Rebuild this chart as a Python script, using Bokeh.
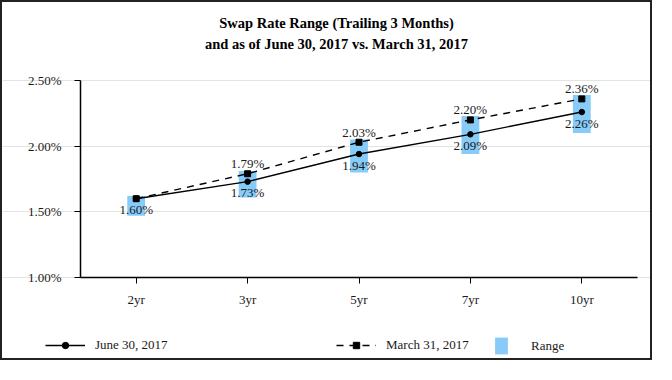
from bokeh.plotting import figure
from bokeh.models import (ColumnDataSource, LabelSet, Label, Legend, LegendItem,
                          Range1d, FixedTicker)
from bokeh.core.properties import value
from bokeh.embed import file_html
from bokeh.resources import INLINE

# ---- data ----
tenors = ["2yr", "3yr", "5yr", "7yr", "10yr"]
june_2017 = [1.60, 1.73, 1.94, 2.09, 2.26]
march_2017 = [1.60, 1.79, 2.03, 2.20, 2.36]
range_low = [1.47, 1.61, 1.80, 1.94, 2.10]
range_high = [1.62, 1.81, 2.05, 2.23, 2.39]
y_ticks = [1.00, 1.50, 2.00, 2.50]
title_lines = ["Swap Rate Range (Trailing 3 Months)",
               "and as of June 30, 2017 vs. March 31, 2017"]

FONT = "Liberation Serif"
TXT = "#1a1a1a"
BLUE = "#87CBF8"

W, H = 652, 360
xpos = list(range(len(tenors)))
x_lo, x_hi = -0.5, len(tenors) - 0.5
y_lo, y_hi = y_ticks[0], y_ticks[-1]
# frame covers the whole canvas; plot area is 78px from left, 17 from right,
# 78 from top and 85 from bottom
px_x = (W - 78 - 17) / (x_hi - x_lo)
px_y = (H - 78 - 85) / (y_hi - y_lo)

p = figure(x_range=Range1d(x_lo - 78 / px_x, x_hi + 17 / px_x),
           y_range=Range1d(y_lo - 85 / px_y, y_hi + 78 / px_y),
           width=W, height=H, output_backend="svg", toolbar_location=None,
           min_border=0, min_border_left=0, min_border_right=0,
           min_border_top=0, min_border_bottom=0)
p.styles = {"border": "2px solid #222"}
p.outline_line_color = None

# grid
p.xgrid.grid_line_color = None
p.ygrid.ticker = FixedTicker(ticks=y_ticks)
p.ygrid.bounds = (x_lo, x_hi)
p.ygrid.grid_line_color = "#e3e3e3"
p.ygrid.grid_line_width = 1

# axes
for ax in (p.xaxis[0], p.yaxis[0]):
    ax.axis_line_color = "black"
    ax.axis_line_width = 1.5
    ax.major_tick_line_color = "black"
    ax.major_tick_in = 0
    ax.major_tick_out = 6
    ax.minor_tick_line_color = None
    ax.major_label_text_font = FONT
    ax.major_label_text_font_size = "13px"
    ax.major_label_text_color = TXT
p.yaxis.ticker = FixedTicker(ticks=y_ticks)
p.yaxis.major_label_overrides = {t: f"{t:.2f}%" for t in y_ticks}
p.yaxis.major_label_standoff = 13
p.yaxis.fixed_location = x_lo
p.yaxis.bounds = (y_lo, y_hi)
p.xaxis.ticker = FixedTicker(ticks=xpos)
p.xaxis.major_label_overrides = {i: t for i, t in zip(xpos, tenors)}
p.xaxis.major_label_standoff = 8
p.xaxis.fixed_location = y_lo
p.xaxis.bounds = (x_lo, x_hi)

# range boxes
src = ColumnDataSource(dict(x=xpos, low=range_low, high=range_high,
                            june=june_2017, march=march_2017,
                            june_lbl=[f"{v:.2f}%" for v in june_2017]))
bars = p.vbar(x="x", top="high", bottom="low", width=0.16, source=src,
              fill_color=BLUE, line_color=None)

# lines
l_june = p.line("x", "june", source=src, line_color="black", line_width=1.4)
m_june = p.scatter("x", "june", source=src, marker="circle", size=5.5,
                   fill_color="black", line_color="black")
l_mar = p.line("x", "march", source=src, line_color="black", line_width=1.4,
               line_dash="7 6")
m_mar = p.scatter("x", "march", source=src, marker="square", size=6,
                  fill_color="black", line_color="black")

# data labels
p.add_layout(LabelSet(x="x", y="june", text="june_lbl", source=src,
                      y_offset=-11, text_align="center", text_baseline="middle",
                      text_font=value(FONT), text_font_size="13px",
                      text_color=TXT))
msrc = ColumnDataSource(dict(x=xpos[1:], march=march_2017[1:],
                             lbl=[f"{v:.2f}%" for v in march_2017[1:]]))
p.add_layout(LabelSet(x="x", y="march", text="lbl", source=msrc,
                      y_offset=10, text_align="center", text_baseline="middle",
                      text_font=value(FONT), text_font_size="13px",
                      text_color=TXT))

# title (screen units relative to frame bottom-left)
for txt, yy in zip(title_lines, [340, 319]):
    p.add_layout(Label(x=334, y=yy, x_units="screen", y_units="screen",
                       text=txt, text_align="center", text_baseline="middle",
                       text_font=FONT, text_font_size="14.5px",
                       text_font_style="bold", text_color="black"))

# legends
def mk_legend(items, x, y, gw, gh, standoff):
    lg = Legend(items=items, location=(x, y), orientation="horizontal",
                glyph_width=gw, glyph_height=gh, label_height=gh,
                label_standoff=standoff, padding=0, margin=0, spacing=0,
                border_line_color=None, background_fill_alpha=0,
                label_text_font=FONT, label_text_font_size="13px",
                label_text_color=TXT)
    p.add_layout(lg, "center")

mk_legend([LegendItem(label="June 30, 2017", renderers=[l_june, m_june])],
          43, 9, 40, 16, 10)
mk_legend([LegendItem(label="March 31, 2017", renderers=[l_mar, m_mar])],
          334, 9, 40, 16, 10)
mk_legend([LegendItem(label="Range", renderers=[bars])],
          491, 6, 16, 21, 22)

open("out.html", "w").write(file_html(p, INLINE))
